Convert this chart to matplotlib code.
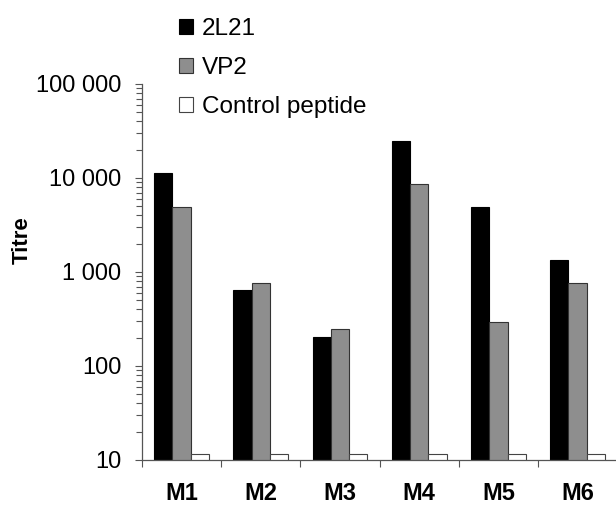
import matplotlib
matplotlib.use("Agg")
import matplotlib.pyplot as plt
import numpy as np

categories = ["M1", "M2", "M3", "M4", "M5", "M6"]
series_names = ["2L21", "VP2", "Control peptide"]
titre_2l21 = [11400, 650, 202, 24800, 4900, 1350]
titre_vp2 = [4900, 760, 249, 8700, 295, 765]
titre_control = [11.5, 11.5, 11.5, 11.5, 11.5, 11.5]
ytick_values = [10, 100, 1000, 10000, 100000]
ytick_labels = ["10", "100", "1 000", "10 000", "100 000"]

plt.rcParams['font.family'] = ['Liberation Sans', 'DejaVu Sans']

W, H = 616, 505
fig = plt.figure(figsize=(W / 100, H / 100), dpi=100)
ax = fig.add_axes([142 / W, 1 - 460 / H, (W - 142) / W, (460 - 84) / H])

x = np.arange(len(categories)) + 0.5
bw = 0.231
spine_col = "#555555"
ax.bar(x - bw, titre_2l21, bw, color="#000000", edgecolor="#000000", linewidth=0.8, label=series_names[0])
ax.bar(x, titre_vp2, bw, color="#8e8e8e", edgecolor="#333333", linewidth=0.8, label=series_names[1])
ax.bar(x + bw, titre_control, bw, color="#ffffff", edgecolor="#444444", linewidth=0.8, label=series_names[2])

ax.set_yscale("log")
ax.set_ylim(10, 100000)
ax.set_xlim(0, (W - 142) / 79.2)

ax.set_yticks(ytick_values)
ax.set_yticklabels(ytick_labels, fontsize=17)
ax.yaxis.set_minor_locator(matplotlib.ticker.LogLocator(base=10, subs=np.arange(2, 10)))
ax.yaxis.set_minor_formatter(matplotlib.ticker.NullFormatter())
ax.tick_params(axis="y", which="major", direction="out", length=5, width=0.8, color=spine_col, pad=10)
ax.tick_params(axis="y", which="minor", direction="out", length=4, width=0.8, color=spine_col)

ax.set_xticks(x)
ax.set_xticklabels(categories, fontsize=17, fontweight="bold")
ax.set_xticks(np.arange(0, len(categories)), minor=True)
ax.tick_params(axis="x", which="major", length=0, pad=15.5)
ax.tick_params(axis="x", which="minor", direction="out", length=5, width=0.8, color=spine_col)

for s in ["top", "right"]:
    ax.spines[s].set_visible(False)
for s in ["left", "bottom"]:
    ax.spines[s].set_color(spine_col)
    ax.spines[s].set_linewidth(0.9)

fig.text(22 / W, 1 - 240 / H, "Titre", rotation=90, fontsize=16, fontweight="bold",
         ha="center", va="center")

leg = ax.legend(loc="upper left", bbox_to_anchor=(179 / W, 1 - 18 / H), bbox_transform=fig.transFigure,
                frameon=False, fontsize=17.5, handlelength=0.58, handleheight=0.58,
                handletextpad=0.36, labelspacing=0.7, borderpad=0, borderaxespad=0)

fig.savefig("out.png", dpi=100)
